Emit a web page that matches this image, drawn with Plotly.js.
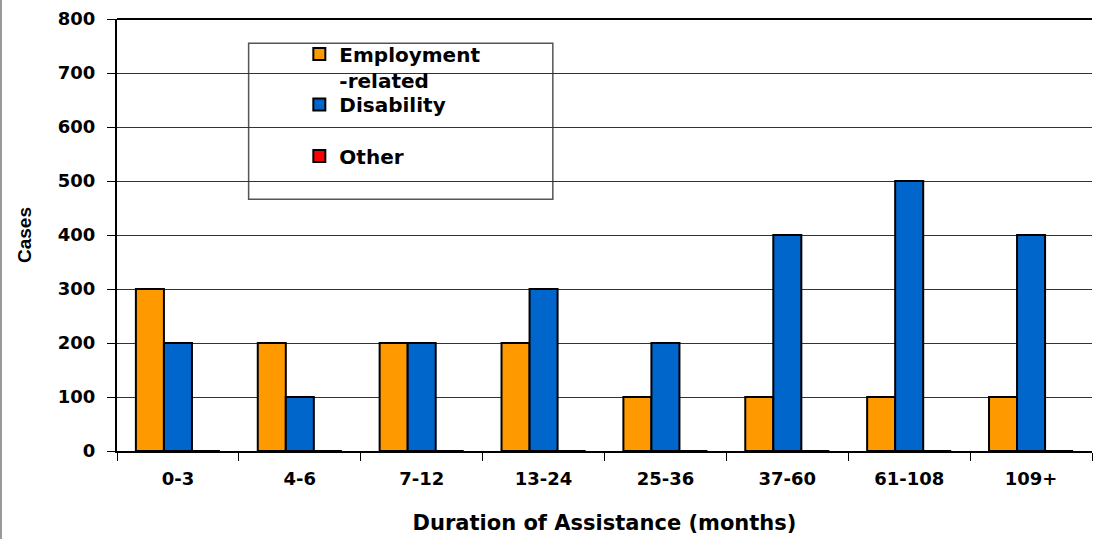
<!DOCTYPE html>
<html><head><meta charset="utf-8">
<script src="https://cdn.plot.ly/plotly-3.0.1.min.js"></script>
<style>html,body{margin:0;padding:0;background:#fff}#chart{width:1094px;height:539px}</style>
</head><body><div id="chart"></div>
<script>
const categories = ["0-3","4-6","7-12","13-24","25-36","37-60","61-108","109+"];
const employment = [300,200,200,200,100,100,100,100];
const disability = [200,100,200,300,200,400,500,400];
const other = [0,0,0,0,0,0,0,0];
const seriesNames = ["Employment<br>-related","Disability","Other"];
const colors = ["#FF9900","#0066CC","#FF0000"];
const font = "DejaVu Sans, sans-serif";

const mk = (y,i,lg)=>({type:"bar",x:categories,y:y,name:seriesNames[i],legend:lg,
  marker:{color:colors[i],line:{color:"#000",width:2}}});
const data=[mk(employment,0,"legend"),mk(disability,1,"legend3"),mk(other,2,"legend2")];
const legFont={size:20,family:font,weight:"bold"};
const leg=(y)=>({x:0.187,y:y,xanchor:"left",yanchor:"top",bgcolor:"rgba(0,0,0,0)",valign:"top",
    borderwidth:0,font:legFont,tracegroupgap:0});
const layout={
  width:1094,height:539,
  margin:{l:117,r:2,t:19,b:88},
  paper_bgcolor:"#fff",plot_bgcolor:"#fff",
  barmode:"group",bargap:0.31,bargroupgap:0,
  font:{family:font,color:"#000"},
  xaxis:{type:"category",showline:true,linecolor:"#000",linewidth:2,
    ticks:"outside",ticklen:8,tickcolor:"#000",tickson:"boundaries",
    showgrid:false,tickfont:{size:18,family:font,weight:"bold"},ticklabelstandoff:10,
    title:{text:"<b>Duration of Assistance (months)</b>",font:{size:21,family:font},standoff:28}},
  yaxis:{range:[0,800],dtick:100,showline:true,linecolor:"#000",linewidth:2,
    ticks:"outside",ticklen:8,tickcolor:"#000",
    gridcolor:"#333",gridwidth:1,zeroline:false,
    tickfont:{size:18,family:font,weight:"bold"},ticklabelstandoff:8,
    title:{text:"<b>Cases</b>",font:{size:19,family:"Liberation Sans, Arial, sans-serif"},standoff:21}},
  legend:leg(0.964),
  legend3:leg(0.847),
  legend2:leg(0.728),
  shapes:[
    {type:"rect",xref:"paper",yref:"paper",x0:0.135,x1:0.447,y0:0.583,y1:0.944,
     line:{color:"#555",width:1.5},fillcolor:"#fff",layer:"below"},
    {type:"line",xref:"paper",yref:"paper",x0:-0.119,x1:-0.119,y0:-0.3,y1:1.1,
     line:{color:"#999",width:2}},
    {type:"line",xref:"paper",yref:"paper",x0:0,x1:1,y0:1,y1:1,line:{color:"#000",width:2}}
  ],
  showlegend:true
};
Plotly.newPlot("chart",data,layout,{displayModeBar:false,staticPlot:true});
</script></body></html>
